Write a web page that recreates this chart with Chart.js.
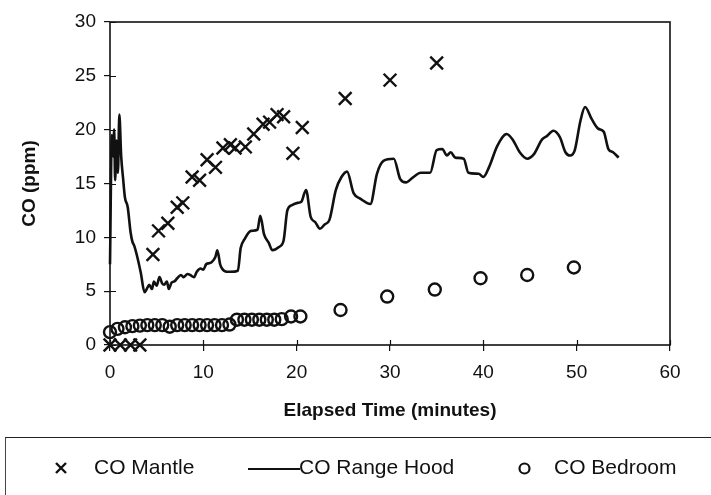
<!DOCTYPE html>
<html>
<head>
<meta charset="utf-8">
<script src="https://cdn.jsdelivr.net/npm/chart.js@4/dist/chart.umd.min.js"></script>
<style>
    html, body { margin: 0; padding: 0; background: #fff; }
    #wrap { position: relative; width: 711px; height: 495px; overflow: hidden; }
    #chart { position: absolute; left: 0; top: 0; }
    #legend {
        position: absolute; left: 5px; top: 437px; width: 720px; height: 80px;
        border-top: 1.5px solid #222; border-left: 1px solid #444;
        font-family: "Liberation Sans", Arial, sans-serif; font-size: 21px; color: #111;
    }
    #legend .txt { position: absolute; top: 17px; white-space: nowrap; }
    #legend svg { position: absolute; }
</style>
</head>
<body>
<div id="wrap">
    <canvas id="chart" width="711" height="495"></canvas>
    <div id="legend"></div>
</div>
<script>
    // CO Mantle (ppm)
    const mantleTime = [0, 1.1, 2.2, 3.2, 4.6, 5.2, 6.2, 7.2, 7.8, 8.8, 9.6, 10.4, 11.3, 12.1, 12.9, 13.4, 14.5, 15.4, 16.4, 17.1, 17.9, 18.6, 19.6, 20.6, 25.2, 30.0, 35.0];
    const mantleCO = [0, 0, 0, 0, 8.4, 10.6, 11.3, 12.8, 13.2, 15.6, 15.3, 17.2, 16.5, 18.3, 18.6, 18.3, 18.4, 19.6, 20.5, 20.7, 21.4, 21.2, 17.8, 20.2, 22.9, 24.6, 26.2];

    // CO Range Hood (ppm)
    const hoodTime = [0, 0.2, 0.35, 0.45, 0.55, 0.7, 0.85, 1.0, 1.2, 1.4, 1.6, 1.9, 2.2, 2.4, 2.6, 3.0, 3.3, 3.7, 4.0, 4.2, 4.5, 4.7, 5.0, 5.3, 5.6, 5.8, 6.1, 6.3, 6.6, 6.9, 7.2, 7.6, 7.9, 8.3, 8.6, 9.0, 9.3, 9.7, 10.0, 10.3, 10.6, 10.9, 11.3, 11.5, 11.8, 12.0, 12.5, 12.9, 13.7, 14.0, 14.4, 15.1, 15.8, 16.1, 16.5, 17.0, 17.4, 18.1, 18.6, 19.0, 19.5, 20.1, 20.5, 21.0, 21.5, 22.0, 22.5, 23.0, 23.5, 24.2, 24.8, 25.4, 26.1, 26.8, 27.9, 28.6, 29.3, 30.4, 31.1, 31.7, 32.5, 33.3, 34.3, 35.0, 35.6, 36.1, 36.5, 37.0, 37.9, 38.4, 39.5, 40.0, 40.6, 41.5, 42.5, 43.2, 43.9, 44.7, 45.4, 46.3, 46.8, 47.5, 48.2, 48.8, 49.3, 49.8, 50.4, 50.9, 51.6, 52.3, 52.9, 53.4, 53.9, 54.5];
    const hoodCO = [7.5, 19.5, 17.5, 20, 15.3, 19, 16, 21.4, 17.5, 15.5, 13.7, 12.8, 10.5, 9.6, 9.2, 7.9, 6.7, 4.9, 5.3, 5.6, 5.2, 5.9, 5.5, 6.3, 5.7, 5.6, 5.9, 5.2, 5.8, 5.9, 6.2, 6.5, 6.3, 6.6, 6.5, 6.3, 6.8, 7.1, 7.0, 7.5, 7.6, 7.7, 8.2, 8.8, 7.5, 7.1, 6.8, 6.8, 6.9, 9.0, 9.8, 10.6, 10.7, 12.0, 10.3, 9.5, 8.8, 9.1, 9.7, 12.5, 13.0, 13.2, 13.3, 14.4, 11.9, 11.4, 10.8, 11.2, 11.6, 14.4, 15.6, 16.1, 14.1, 13.6, 13.1, 15.9, 17.1, 17.3, 15.4, 15.1, 15.6, 16.0, 16.0, 18.1, 18.2, 17.6, 17.9, 17.4, 17.3, 16.0, 15.9, 15.6, 16.5, 18.5, 19.6, 19.0, 17.9, 17.3, 17.7, 19.1, 19.4, 19.9, 19.3, 17.9, 17.6, 18.1, 20.8, 22.1, 21.0, 20.1, 19.8, 18.2, 17.9, 17.4];

    // CO Bedroom (ppm)
    const bedroomTime = [0, 0.8, 1.6, 2.4, 3.2, 4.0, 4.8, 5.6, 6.4, 7.2, 8.0, 8.8, 9.6, 10.4, 11.2, 12.0, 12.8, 13.6, 14.4, 15.2, 16.0, 16.8, 17.6, 18.4, 19.4, 20.4, 24.7, 29.7, 34.8, 39.7, 44.7, 49.7];
    const bedroomCO = [1.2, 1.5, 1.65, 1.75, 1.8, 1.85, 1.85, 1.85, 1.7, 1.85, 1.85, 1.85, 1.85, 1.85, 1.85, 1.85, 1.9, 2.35, 2.35, 2.35, 2.35, 2.35, 2.35, 2.4, 2.65, 2.65, 3.25, 4.5, 5.15, 6.2, 6.5, 7.2];

    const xTicks = [0, 10, 20, 30, 40, 50, 60];
    const yTicks = [0, 5, 10, 15, 20, 25, 30];

    const FONT = '"Liberation Sans", Arial, sans-serif';
    const INK = '#111';

    const toPoints = (xs, ys) => xs.map((x, i) => ({ x: x, y: ys[i] }));

    // box round the plot and the inner half of each tick
    const framePlugin = {
        id: 'frame',
        afterDatasetsDraw(chart) {
            const { ctx, chartArea: a, scales } = chart;
            ctx.save();
            ctx.strokeStyle = INK;
            ctx.lineWidth = 1.6;
            ctx.strokeRect(a.left, a.top, a.right - a.left, a.bottom - a.top);
            ctx.lineWidth = 1.2;
            ctx.beginPath();
            xTicks.forEach(v => {
                const px = Math.round(scales.x.getPixelForValue(v)) + 0.5;
                ctx.moveTo(px, a.bottom);
                ctx.lineTo(px, a.bottom - 5);
            });
            yTicks.forEach(v => {
                const py = Math.round(scales.y.getPixelForValue(v)) + 0.5;
                ctx.moveTo(a.left, py);
                ctx.lineTo(a.left + 6, py);
            });
            ctx.stroke();
            ctx.restore();
        }
    };

    new Chart(document.getElementById('chart'), {
        type: 'scatter',
        data: {
            datasets: [
                {
                    label: 'CO Mantle',
                    data: toPoints(mantleTime, mantleCO),
                    pointStyle: 'crossRot',
                    pointRadius: 9,
                    borderColor: INK,
                    borderWidth: 2.4,
                    clip: false,
                    order: 1
                },
                {
                    label: 'CO Range Hood',
                    data: toPoints(hoodTime, hoodCO),
                    showLine: true,
                    pointRadius: 0,
                    borderColor: INK,
                    borderWidth: 2.6,
                    cubicInterpolationMode: 'monotone',
                    clip: false,
                    order: 2
                },
                {
                    label: 'CO Bedroom',
                    data: toPoints(bedroomTime, bedroomCO),
                    pointStyle: 'circle',
                    pointRadius: 6,
                    borderColor: INK,
                    backgroundColor: 'rgba(0,0,0,0)',
                    borderWidth: 2.4,
                    clip: false,
                    order: 3
                }
            ]
        },
        options: {
            responsive: false,
            animation: false,
            events: [],
            layout: { padding: { left: 0, right: 41, top: 22, bottom: 63 } },
            scales: {
                x: {
                    type: 'linear',
                    min: 0,
                    max: 60,
                    afterBuildTicks: scale => { scale.ticks = xTicks.map(v => ({ value: v })); },
                    afterFit: scale => { scale.height = 87; },
                    grid: { drawOnChartArea: false, color: INK, tickLength: 6, lineWidth: 1.2 },
                    border: { display: false },
                    ticks: { color: INK, padding: 10, font: { family: FONT, size: 19 } },
                    title: {
                        display: true,
                        text: 'Elapsed Time (minutes)',
                        color: INK,
                        padding: { top: 0, bottom: 10 },
                        font: { family: FONT, size: 19, weight: 'bold' }
                    }
                },
                y: {
                    min: 0,
                    max: 30,
                    afterBuildTicks: scale => { scale.ticks = yTicks.map(v => ({ value: v })); },
                    afterFit: scale => { scale.width = 110; },
                    grid: { drawOnChartArea: false, color: INK, tickLength: 6, lineWidth: 1.2 },
                    border: { display: false },
                    ticks: { color: INK, padding: 8, font: { family: FONT, size: 19 } },
                    title: {
                        display: true,
                        text: 'CO (ppm)',
                        color: INK,
                        padding: { top: 18, bottom: 0 },
                        font: { family: FONT, size: 19, weight: 'bold' }
                    }
                }
            },
            plugins: {
                legend: { display: false },
                tooltip: { enabled: false }
            }
        },
        plugins: [framePlugin]
    });

    // legend strip under the chart, boxed like the original
    const legend = document.getElementById('legend');
    legend.insertAdjacentHTML('beforeend', `
        <svg style="left:48px;top:23px" width="14" height="14"><path d="M2 2L12 12M12 2L2 12" stroke="#111" stroke-width="2.4"/></svg>
        <span class="txt" style="left:88px">CO Mantle</span>
        <svg style="left:242px;top:29px" width="52" height="4"><path d="M0 2H52" stroke="#111" stroke-width="2.2"/></svg>
        <span class="txt" style="left:293px">CO Range Hood</span>
        <svg style="left:511px;top:23px" width="15" height="15"><circle cx="7.5" cy="7.5" r="5" fill="none" stroke="#111" stroke-width="2.2"/></svg>
        <span class="txt" style="left:548px">CO Bedroom</span>
    `);
</script>
</body>
</html>
